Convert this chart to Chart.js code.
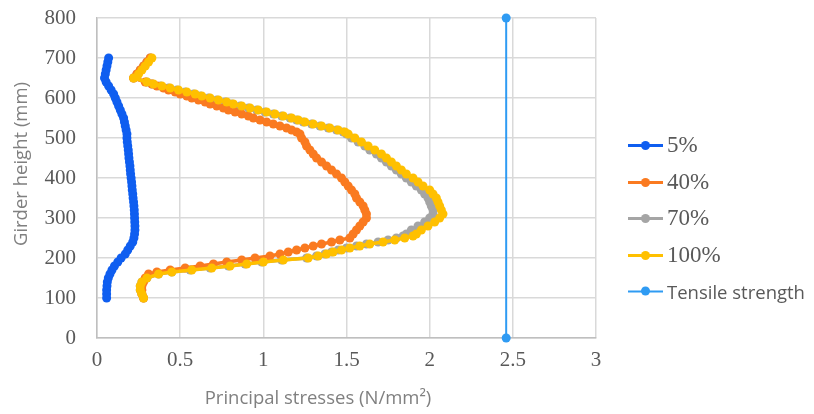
<!DOCTYPE html>
<html><head><meta charset="utf-8">
<script src="https://cdn.jsdelivr.net/npm/chart.js@4.4.0/dist/chart.umd.min.js"></script>
<style>
html,body{margin:0;padding:0;background:#fff;}
#wrap{position:relative;width:814px;height:414px;overflow:hidden;}
#legend{position:absolute;left:628px;top:0;width:186px;height:414px;}
.li{position:absolute;left:0;display:flex;align-items:center;white-space:nowrap;color:#595959;transform:translateY(-50%);}
.sym{position:relative;width:35px;height:10px;margin-right:4px;flex:none;}
.sym .ln{position:absolute;left:0;right:0;top:4px;height:2.5px;}
.sym .dt{position:absolute;left:13px;top:0.5px;width:9px;height:9px;border-radius:50%;}
</style></head><body>
<div id="wrap"><canvas id="c" width="814" height="414"></canvas><div id="legend"></div></div>
<script>
// ---- data ----
const seriesNames = ['5%', '40%', '70%', '100%', 'Tensile strength'];
const xTicks = [0, 0.5, 1, 1.5, 2, 2.5, 3];
const yTicks = [0, 100, 200, 300, 400, 500, 600, 700, 800];

const heights5 = [700,690,680,670,660,650,640,630,620,610,600,590,580,570,560,550,540,530,520,510,500,490,480,470,460,450,440,430,420,410,400,390,380,370,360,350,340,330,320,310,300,290,280,270,260,250,240,230,220,210,200,190,180,170,160,150,140,130,120,110,100];
const stress5 = [0.07,0.065,0.06,0.055,0.05,0.045,0.055,0.07,0.085,0.10,0.11,0.12,0.13,0.14,0.15,0.16,0.165,0.17,0.175,0.18,0.18,0.182,0.185,0.188,0.19,0.192,0.195,0.198,0.20,0.202,0.205,0.208,0.21,0.212,0.215,0.217,0.22,0.222,0.224,0.225,0.226,0.227,0.228,0.228,0.226,0.222,0.215,0.20,0.185,0.17,0.145,0.125,0.105,0.09,0.078,0.068,0.062,0.06,0.058,0.058,0.058];

const heights40 = [700,690,680,670,660,650,640,635,630,625,620,615,610,605,600,595,590,585,580,575,570,565,560,555,550,545,540,535,530,525,520,515,510,500,490,480,470,460,450,440,430,420,410,400,390,380,370,360,350,340,330,320,310,300,290,280,270,260,250,245,240,235,230,225,220,215,210,205,200,195,190,185,180,175,170,165,160,150,140,130,120,110,100];
const stress40 = [0.32,0.30,0.28,0.26,0.24,0.22,0.29,0.33,0.36,0.40,0.43,0.47,0.50,0.54,0.57,0.61,0.65,0.68,0.72,0.76,0.79,0.83,0.87,0.91,0.94,0.98,1.02,1.06,1.10,1.14,1.17,1.20,1.22,1.23,1.25,1.26,1.28,1.30,1.32,1.35,1.38,1.41,1.44,1.47,1.49,1.51,1.53,1.55,1.56,1.58,1.60,1.61,1.62,1.62,1.60,1.58,1.56,1.54,1.52,1.46,1.41,1.35,1.30,1.25,1.20,1.15,1.10,1.04,0.95,0.87,0.78,0.70,0.62,0.53,0.44,0.36,0.31,0.29,0.28,0.27,0.27,0.27,0.28];

const heights70 = [700,690,680,670,660,650,640,635,630,625,620,615,610,605,600,595,590,585,580,575,570,565,560,555,550,545,540,535,530,525,520,515,510,500,490,480,470,460,450,440,430,420,410,400,390,380,370,360,350,340,330,320,310,300,290,280,270,260,255,250,245,240,235,230,225,220,215,210,205,200,195,190,185,180,175,170,165,160,150,140,130,120,110,100];
const stress70 = [0.32,0.30,0.28,0.26,0.24,0.22,0.30,0.33,0.38,0.43,0.48,0.53,0.58,0.62,0.67,0.72,0.77,0.81,0.86,0.91,0.96,1.01,1.06,1.11,1.16,1.20,1.24,1.29,1.34,1.39,1.44,1.48,1.50,1.53,1.57,1.61,1.64,1.68,1.71,1.74,1.77,1.80,1.83,1.86,1.89,1.92,1.95,1.97,1.99,2.00,2.01,2.02,2.02,2.00,1.97,1.93,1.89,1.86,1.84,1.80,1.75,1.69,1.62,1.56,1.50,1.45,1.41,1.37,1.32,1.26,1.11,0.99,0.89,0.79,0.68,0.56,0.45,0.37,0.30,0.27,0.26,0.26,0.27,0.28];

const heights100 = [700,690,680,670,660,650,640,635,630,625,620,615,610,605,600,595,590,585,580,575,570,565,560,555,550,545,540,535,530,525,520,515,510,500,490,480,470,460,450,440,430,420,410,400,390,380,370,360,350,340,330,320,310,300,290,280,270,260,255,250,245,240,235,230,225,220,215,210,205,200,195,190,185,180,175,170,165,160,150,140,130,120,110,100];
const stress100 = [0.33,0.31,0.29,0.27,0.25,0.22,0.30,0.34,0.39,0.44,0.49,0.54,0.59,0.63,0.68,0.73,0.78,0.82,0.87,0.92,0.97,1.02,1.07,1.12,1.17,1.21,1.25,1.30,1.35,1.40,1.45,1.49,1.51,1.55,1.59,1.63,1.67,1.71,1.74,1.77,1.80,1.83,1.86,1.90,1.93,1.96,2.00,2.02,2.04,2.05,2.06,2.07,2.08,2.06,2.03,1.99,1.95,1.92,1.90,1.85,1.79,1.72,1.64,1.58,1.52,1.47,1.42,1.38,1.33,1.27,1.12,1.00,0.90,0.80,0.69,0.57,0.45,0.37,0.30,0.27,0.26,0.26,0.27,0.28];

const heightsTensile = [0, 800];
const stressTensile = [2.46, 2.46];

// ---- styles ----
const colors = ['#0f5ef0', '#fa7a20', '#a5a5a5', '#ffc000', '#2f9bf3'];
const drawOrder = [0, 2, 3, 1, 0];

function pts(xs, ys) { return xs.map((x, i) => ({ x: x, y: ys[i] })); }
const seriesX = [stress5, stress40, stress70, stress100, stressTensile];
const seriesY = [heights5, heights40, heights70, heights100, heightsTensile];

const datasets = seriesNames.map((name, i) => ({
  label: name,
  data: pts(seriesX[i], seriesY[i]),
  showLine: true,
  borderColor: colors[i],
  backgroundColor: colors[i],
  pointBackgroundColor: colors[i],
  pointBorderColor: colors[i],
  borderWidth: i === 4 ? 2 : 3.5,
  pointRadius: 4.5,
  pointBorderWidth: 0,
  pointHoverRadius: 4.5,
  tension: 0,
  clip: false,
  order: drawOrder[i]
}));

const axisTitles = {
  id: 'axisTitles',
  afterDraw(chart) {
    const ctx = chart.ctx;
    ctx.save();
    ctx.fillStyle = '#808080';
    ctx.font = '18.5px "Open Sans", "Noto Sans", sans-serif';
    ctx.textAlign = 'center';
    ctx.textBaseline = 'middle';
    ctx.fillText('Principal stresses (N/mm\u00B2)', 318, 399);
    ctx.translate(22, 164);
    ctx.rotate(-Math.PI / 2);
    ctx.fillText('Girder height (mm)', 0, 0);
    ctx.restore();
  }
};

const tickFont = { family: '"Liberation Serif", "Times New Roman", serif', size: 21 };

new Chart(document.getElementById('c'), {
  type: 'scatter',
  data: { datasets },
  options: {
    responsive: false,
    animation: false,
    events: [],
    layout: { padding: { left: 0, right: 218, top: 18, bottom: 0 } },
    plugins: { legend: { display: false }, tooltip: { enabled: false } },
    scales: {
      x: {
        type: 'linear', min: 0, max: 3,
        afterBuildTicks(s) { s.ticks = xTicks.map(v => ({ value: v })); },
        afterFit(s) { s.height = 76; },
        grid: { color: '#d9d9d9', lineWidth: 1.5, drawTicks: false },
        border: { color: '#bfbfbf', width: 1.5 },
        ticks: { font: tickFont, color: '#595959', padding: 10, maxRotation: 0, autoSkip: false,
                 callback: v => String(v) }
      },
      y: {
        type: 'linear', min: 0, max: 800,
        afterBuildTicks(s) { s.ticks = yTicks.map(v => ({ value: v })); },
        afterFit(s) { s.width = 97; },
        grid: { color: '#d9d9d9', lineWidth: 1.5, drawTicks: true, tickLength: 21, tickColor: 'rgba(0,0,0,0)' },
        border: { color: '#bfbfbf', width: 1.5 },
        ticks: { font: tickFont, color: '#595959', padding: 0, autoSkip: false,
                 callback: v => String(v) }
      }
    }
  },
  plugins: [axisTitles]
});

// ---- legend (HTML, built from the dataset names and colours) ----
const legendY = [145, 182, 218, 255, 291];
const leg = document.getElementById('legend');
seriesNames.forEach((name, i) => {
  const d = document.createElement('div');
  d.className = 'li';
  d.style.top = legendY[i] + 'px';
  const serif = i < 4;
  d.style.font = serif ? '23px "Liberation Serif", serif' : '18.5px "Open Sans", "Noto Sans", sans-serif';
  d.innerHTML = '<span class="sym"><span class="ln" style="background:' + colors[i] + '"></span><span class="dt" style="background:' + colors[i] + '"></span></span><span></span>';
  d.lastChild.textContent = name;
  leg.appendChild(d);
});
</script>
</body></html>
